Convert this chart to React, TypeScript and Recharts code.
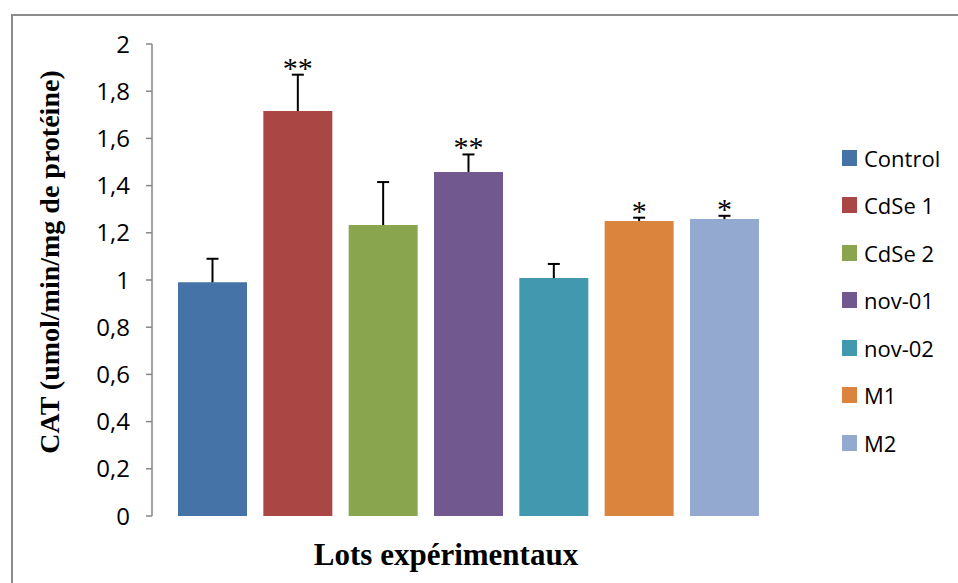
import React from 'react';
import { BarChart, Bar, XAxis, YAxis, Legend, LabelList } from 'recharts';

// one category, seven groups (Excel style: each group is its own series)
const categories = ['Lots'];
const groups = ['Control', 'CdSe 1', 'CdSe 2', 'nov-01', 'nov-02', 'M1', 'M2'];
const means = [0.99, 1.716, 1.233, 1.458, 1.008, 1.25, 1.258];
const errors = [0.1, 0.154, 0.182, 0.074, 0.06, 0.014, 0.014];
const stars = ['', '**', '', '**', '', '*', '*'];
const colors = ['#4572A7', '#AA4643', '#89A54E', '#71588F', '#4198AF', '#DB843D', '#93A9CF'];
const yTicks = [0, 0.2, 0.4, 0.6, 0.8, 1, 1.2, 1.4, 1.6, 1.8, 2];

const data = categories.map((name) => {
  const row: Record<string, any> = { name };
  groups.forEach((g, i) => {
    row[g] = means[i];
  });
  return row;
});

const sans = 'Open Sans, sans-serif';
const serif = 'Liberation Serif, Times New Roman, serif';

// error bar (upper only) + significance stars, drawn from the bar's own geometry
const ErrMark = ({ x, y, width, height, value, err, star }: any) => {
  if (value == null || !height) return null;
  const k = height / value;
  const cx = x + width / 2;
  const top = y - err * k;
  return (
    <g>
      <line x1={cx} y1={y} x2={cx} y2={top} stroke="#000" strokeWidth={2} />
      <line x1={cx - 6} y1={top} x2={cx + 6} y2={top} stroke="#000" strokeWidth={2} />
      {star && (
        <text x={cx} y={top + 3} textAnchor="middle" fontFamily={serif} fontSize={30} fill="#000">
          {star}
        </text>
      )}
    </g>
  );
};

const LegendBox = ({ payload }: any) => (
  <div>
    {(payload || []).map((p: any) => (
      <div key={p.value} style={{ display: 'flex', alignItems: 'center', height: 47.5 }}>
        <span style={{ width: 15, height: 16, background: p.color, display: 'inline-block' }} />
        <span style={{ marginLeft: 7, fontFamily: sans, fontSize: 22, color: '#000', lineHeight: 1 }}>
          {p.value}
        </span>
      </div>
    ))}
  </div>
);

const App = () => {
  return (
    <div style={{ position: 'absolute', left: 0, top: 0, width: 958, height: 583, background: '#fff' }}>
      <div
        style={{
          position: 'absolute',
          left: 11,
          top: 14,
          right: 0,
          bottom: 0,
          borderTop: '2px solid #8c8c8c',
          borderLeft: '2px solid #8c8c8c',
        }}
      />
      <BarChart
        width={958}
        height={583}
        data={data}
        margin={{ top: 44, right: 173, bottom: 0, left: 0 }}
        barSize={69}
        barGap={16.33}
      >
        <XAxis
          dataKey="name"
          height={67}
          axisLine={false}
          tickLine={false}
          tick={false}
          label={{
            content: ({ viewBox }: any) => (
              <text
                x={446}
                y={viewBox.y + 49}
                textAnchor="middle"
                fontFamily={serif}
                fontWeight="bold"
                fontSize={31}
                fill="#000"
              >
                Lots expérimentaux
              </text>
            ),
          }}
        />
        <YAxis
          width={152}
          domain={[0, 2]}
          ticks={yTicks}
          interval={0}
          tickFormatter={(v: number) => String(v).replace('.', ',')}
          axisLine={{ stroke: '#868686', strokeWidth: 1.5 }}
          tickLine={{ stroke: '#868686', strokeWidth: 1.5 }}
          tickSize={6}
          tickMargin={16}
          tick={{ fill: '#000', fontSize: 24, fontFamily: sans }}
          label={{
            content: () => (
              <text
                x={49}
                y={262}
                transform="rotate(-90, 49, 262)"
                textAnchor="middle"
                dominantBaseline="central"
                fontFamily={serif}
                fontWeight="bold"
                fontSize={28}
                fill="#000"
              >
                CAT (umol/min/mg de protéine)
              </text>
            ),
          }}
        />
        <Legend
          layout="vertical"
          align="center"
          verticalAlign="middle"
          itemSorter={(item: any) => groups.indexOf(item.value)}
          content={<LegendBox />}
          wrapperStyle={{ left: 842, top: 134, width: 116 }}
        />
        {groups.map((g, i) => (
          <Bar key={g} dataKey={g} fill={colors[i]} isAnimationActive={false}>
            <LabelList
              dataKey={g}
              content={(p: any) => <ErrMark {...p} err={errors[i]} star={stars[i]} />}
            />
          </Bar>
        ))}
      </BarChart>
    </div>
  );
};

export default App;
